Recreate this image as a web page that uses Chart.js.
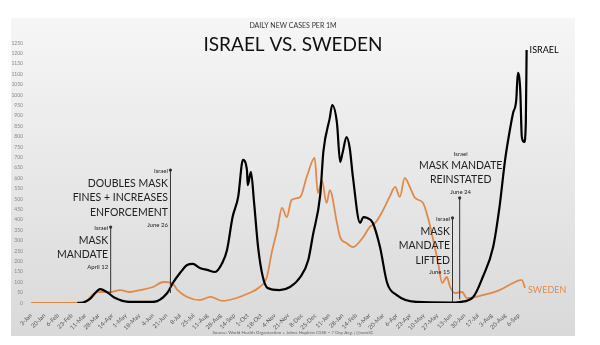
<!DOCTYPE html>
<html>
<head>
<meta charset="utf-8">
<script src="https://cdn.jsdelivr.net/npm/chart.js@4.4.0/dist/chart.umd.min.js"></script>
<style>
    html, body { margin: 0; padding: 0; background: #fff; }
</style>
</head>
<body>
<canvas id="chart" width="600" height="345"></canvas>
<script>
/* Data: 7-day avg daily new cases per 1M */
const START = Date.UTC(2020, 0, 3);

const xTickLabels = [
    "3-Jan", "20-Jan", "6-Feb", "23-Feb", "11-Mar", "28-Mar", "14-Apr", "1-May",
    "18-May", "4-Jun", "21-Jun", "8-Jul", "25-Jul", "11-Aug", "28-Aug", "14-Sep",
    "1-Oct", "18-Oct", "4-Nov", "21-Nov", "8-Dec", "25-Dec", "11-Jan", "28-Jan",
    "14-Feb", "3-Mar", "20-Mar", "6-Apr", "23-Apr", "10-May", "27-May", "13-Jun",
    "30-Jun", "17-Jul", "3-Aug", "20-Aug", "6-Sep",
];

const israelDates = [
    "2020-03-01", "2020-03-08", "2020-03-17", "2020-03-30", "2020-04-09", "2020-04-17",
    "2020-05-06", "2020-06-04", "2020-06-22", "2020-06-29", "2020-07-08", "2020-07-17",
    "2020-07-24", "2020-08-02", "2020-08-11", "2020-08-21", "2020-08-30", "2020-09-05",
    "2020-09-12", "2020-09-19", "2020-09-25", "2020-09-30", "2020-10-01", "2020-10-05",
    "2020-10-09", "2020-10-14", "2020-10-20", "2020-10-26", "2020-11-10", "2020-11-23",
    "2020-12-06", "2020-12-16", "2020-12-22", "2020-12-31", "2021-01-04", "2021-01-12",
    "2021-01-15", "2021-01-21", "2021-01-25", "2021-01-28", "2021-02-02", "2021-02-06",
    "2021-02-10", "2021-02-19", "2021-02-23", "2021-02-28", "2021-03-07", "2021-03-16",
    "2021-03-25", "2021-04-06", "2021-05-01", "2021-06-12", "2021-06-24", "2021-07-11",
    "2021-07-23", "2021-08-05", "2021-08-13", "2021-08-20", "2021-08-26", "2021-08-30",
    "2021-09-03", "2021-09-05", "2021-09-08", "2021-09-10", "2021-09-13", "2021-09-15",
    "2021-09-16",
];
const israelCases = [
    0, 2, 20, 67, 48, 25,
    5, 5, 48, 96, 144, 183,
    188, 168, 159, 149, 192, 255,
    413, 510, 688, 640, 567, 630,
    481, 269, 125, 72, 62, 77,
    125, 207, 330, 520, 730, 890,
    952, 865, 678, 721, 798, 745,
    606, 385, 413, 409, 385, 269,
    96, 38, 5, 2, 5, 29,
    125, 269, 462, 688, 832, 913,
    976, 1106, 1024, 798, 774, 865,
    1216,
];

const swedenDates = [
    "2020-01-03", "2020-03-08", "2020-03-26", "2020-04-11", "2020-04-24", "2020-05-06",
    "2020-05-19", "2020-06-04", "2020-06-17", "2020-06-28", "2020-07-05", "2020-07-17",
    "2020-08-02", "2020-08-15", "2020-08-31", "2020-09-17", "2020-09-30", "2020-10-16",
    "2020-10-25", "2020-10-31", "2020-11-07", "2020-11-13", "2020-11-19", "2020-11-25",
    "2020-12-06", "2020-12-14", "2020-12-24", "2020-12-28", "2021-01-02", "2021-01-08",
    "2021-01-12", "2021-01-21", "2021-01-25", "2021-02-02", "2021-02-10", "2021-02-23",
    "2021-03-03", "2021-03-10", "2021-03-18", "2021-03-28", "2021-04-04", "2021-04-10",
    "2021-04-16", "2021-04-23", "2021-04-29", "2021-05-09", "2021-05-15", "2021-05-21",
    "2021-05-28", "2021-06-02", "2021-06-08", "2021-06-12", "2021-06-18", "2021-06-27",
    "2021-07-03", "2021-07-23", "2021-08-13", "2021-08-30", "2021-09-08", "2021-09-10",
    "2021-09-14",
];
const swedenCases = [
    0, 0, 53, 53, 62, 53,
    62, 77, 101, 96, 62, 29,
    14, 29, 10, 24, 43, 77,
    125, 240, 351, 457, 413, 495,
    510, 606, 697, 529, 591, 481,
    543, 385, 317, 288, 269, 317,
    365, 385, 433, 510, 558, 510,
    601, 553, 505, 481, 413, 317,
    192, 96, 125, 77, 48, 53,
    24, 38, 62, 96, 110, 110,
    72,
];

/* Policy annotations (Israel) */
const notes = [
    { date: "2020-04-12", top: 365, bottom: 48, side: "left",
      head: "Israel", lines: ["MASK", "MANDATE"], tail: "April 12" },
    { date: "2020-06-26", top: 639, bottom: 48, side: "left",
      head: "Israel", lines: ["DOUBLES MASK", "FINES + INCREASES", "ENFORCEMENT"], tail: "June 26" },
    { date: "2021-06-15", top: 409, bottom: 4, side: "left",
      head: "Israel", lines: ["MASK", "MANDATE", "LIFTED"], tail: "June 15" },
    { date: "2021-06-24", top: 505, bottom: 18, side: "above",
      head: "Israel", lines: ["MASK MANDATE", "REINSTATED"], tail: "June 24" },
];

const COLORS = {
    israel: "#000000",
    sweden: "#df8a4b",
    text: "#222",
    tick: "#888",
    xTick: "#555",
    note: "#333",
};
const FONT = "Lato, 'Open Sans', sans-serif";

function dayOf(s) {
    const [y, m, d] = s.split("-").map(Number);
    return (Date.UTC(y, m - 1, d) - START) / 86400000;
}

function toPoints(dates, values) {
    return dates.map((d, i) => ({ x: dayOf(d), y: values[i] }));
}

/* Grey panel, titles and source line */
const backdrop = {
    id: "backdrop",
    beforeDraw(chart) {
        const ctx = chart.ctx;
        ctx.save();
        ctx.fillStyle = "#fff";
        ctx.fillRect(0, 0, chart.width, chart.height);
        const g = ctx.createLinearGradient(0, 18, 0, 336);
        g.addColorStop(0, "#f6f6f6");
        g.addColorStop(1, "#d9d9d9");
        ctx.fillStyle = g;
        ctx.fillRect(11, 18, 564, 318);

        ctx.textAlign = "center";
        ctx.textBaseline = "middle";
        ctx.fillStyle = "#333";
        ctx.font = `7px ${FONT}`;
        ctx.fillText("DAILY NEW CASES PER 1M", 293, 26);
        ctx.fillStyle = "#111";
        ctx.font = `19px ${FONT}`;
        ctx.fillText("ISRAEL VS. SWEDEN", 293, 45);
        ctx.fillStyle = "#666";
        ctx.font = `4.5px ${FONT}`;
        ctx.fillText("Source: World Health Organization + Johns Hopkins CSSE \u2013 7 Day Avg. | @somSC", 293, 333);
        ctx.restore();
    },
};

/* Annotation lines with labels, plus series end labels */
const callouts = {
    id: "callouts",
    afterDatasetsDraw(chart) {
        const ctx = chart.ctx;
        const xs = chart.scales.x;
        const ys = chart.scales.y;
        ctx.save();
        for (const n of notes) {
            const x = xs.getPixelForValue(dayOf(n.date));
            const yt = ys.getPixelForValue(n.top);
            const yb = ys.getPixelForValue(n.bottom);
            ctx.strokeStyle = COLORS.note;
            ctx.lineWidth = 1;
            ctx.beginPath();
            ctx.moveTo(x, yt);
            ctx.lineTo(x, yb);
            ctx.stroke();
            ctx.fillStyle = COLORS.note;
            ctx.beginPath();
            ctx.arc(x, yt, 1.6, 0, Math.PI * 2);
            ctx.fill();

            ctx.textBaseline = "middle";
            ctx.fillStyle = COLORS.text;
            let tx, rows;
            if (n.side === "left") {
                ctx.textAlign = "right";
                tx = x - 2.5;
                rows = [[n.head, yt + 1, 6]];
                n.lines.forEach((l, i) => rows.push([l, yt + 13.5 + i * 14.5, 10.5]));
                rows.push([n.tail, yt + 13.5 + (n.lines.length - 1) * 14.5 + 12, 6]);
            } else {
                ctx.textAlign = "center";
                tx = x + 1;
                rows = [[n.head, yt - 44, 6]];
                n.lines.forEach((l, i) => rows.push([l, yt - 32 + i * 14, 10.5]));
                rows.push([n.tail, yt - 6, 6]);
            }
            for (const [t, y, s] of rows) {
                ctx.font = `${s}px ${FONT}`;
                ctx.fillText(t, tx, y);
            }
        }

        chart.data.datasets.forEach((ds, i) => {
            const pts = chart.getDatasetMeta(i).data;
            const last = pts[pts.length - 1];
            ctx.font = `9px ${FONT}`;
            ctx.textAlign = "left";
            ctx.textBaseline = "middle";
            ctx.fillStyle = ds.borderColor;
            ctx.fillText(ds.label, last.x + 3, last.y + (i === 0 ? 0 : 2));
        });
        ctx.restore();
    },
};

new Chart(document.getElementById("chart"), {
    type: "line",
    data: {
        datasets: [
            {
                label: "ISRAEL",
                data: toPoints(israelDates, israelCases),
                borderColor: COLORS.israel,
                borderWidth: 2.2,
                pointRadius: 0,
                cubicInterpolationMode: "monotone",
            },
            {
                label: "SWEDEN",
                data: toPoints(swedenDates, swedenCases),
                borderColor: COLORS.sweden,
                borderWidth: 1.8,
                pointRadius: 0,
                cubicInterpolationMode: "monotone",
            },
        ],
    },
    options: {
        responsive: false,
        animation: false,
        layout: { padding: { left: 0, right: 71, top: 43, bottom: 0 } },
        plugins: {
            legend: { display: false },
            tooltip: { enabled: false },
        },
        scales: {
            x: {
                type: "linear",
                min: 0,
                max: 625,
                grid: { display: false },
                border: { display: false },
                afterBuildTicks: (scale) => {
                    scale.ticks = xTickLabels.map((_, i) => ({ value: i * 17 }));
                },
                afterFit: (scale) => { scale.height = 42; },
                ticks: {
                    autoSkip: false,
                    maxRotation: 45,
                    minRotation: 45,
                    padding: 1,
                    color: COLORS.xTick,
                    font: { family: FONT, size: 6 },
                    callback: (v) => xTickLabels[Math.round(v / 17)],
                },
            },
            y: {
                min: 0,
                max: 1250,
                grid: { display: false, drawTicks: false },
                border: { display: false },
                afterFit: (scale) => { scale.width = 31; },
                ticks: {
                    stepSize: 50,
                    autoSkip: false,
                    padding: 8,
                    color: COLORS.tick,
                    font: { family: FONT, size: 5 },
                    callback: (v) => String(v),
                },
            },
        },
    },
    plugins: [backdrop, callouts],
});
</script>
</body>
</html>
